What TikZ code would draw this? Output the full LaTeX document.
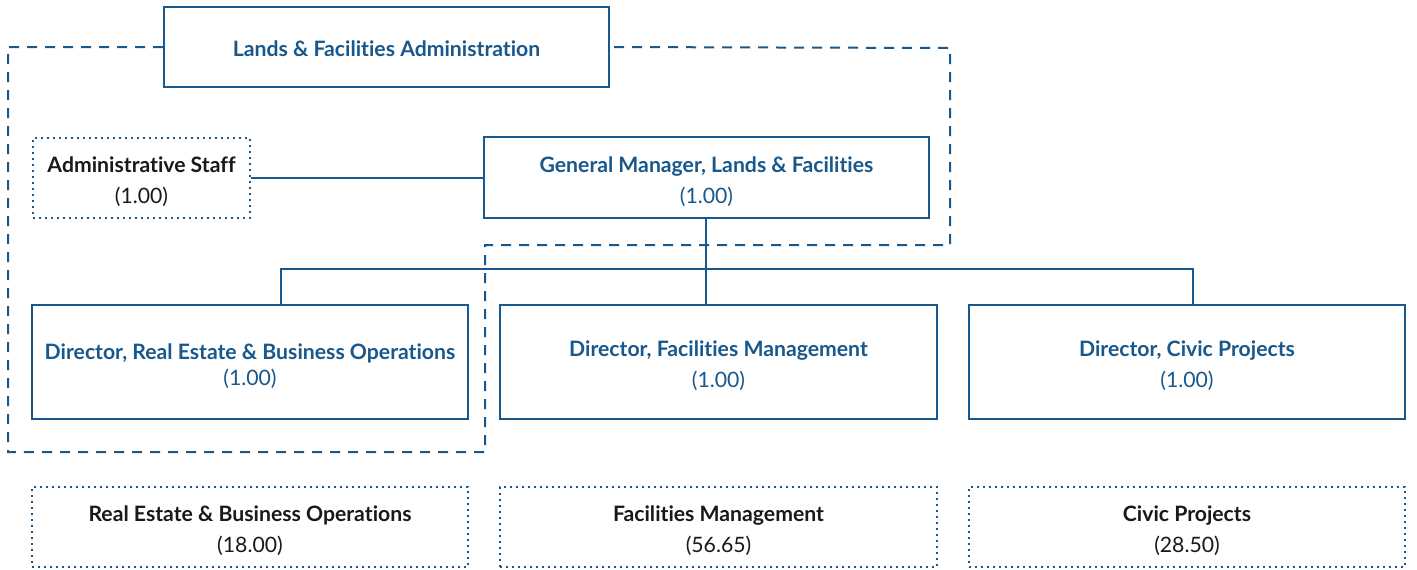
\documentclass[tikz,border=0pt]{standalone}
\usepackage{fontspec}
\setmainfont{Lato}[Ligatures=NoCommon]
\usepackage{tikz}
\usetikzlibrary{positioning,calc}
\definecolor{OrgBlue}{RGB}{24,88,140}
\definecolor{OrgInk}{RGB}{25,25,25}
\newcommand{\headrow}[1]{\rule{0pt}{12pt}\textbf{#1}}
\tikzset{
  unit/.style={draw=OrgBlue,line width=1pt,fill=white,align=center,
    inner sep=0pt,font=\fontsize{10.6}{15.5}\selectfont,text=OrgBlue},
  staff/.style={unit,dash pattern=on 1pt off 2pt,text=OrgInk},
  link/.style={draw=OrgBlue,line width=1pt},
  group/.style={draw=OrgBlue,line width=1pt,dash pattern=on 5pt off 4pt},
}

\begin{document}
\begin{tikzpicture}[x=0.5pt,y=-0.5pt]
  \useasboundingbox (0,0) rectangle (1417,569);
  % dashed group round the administration
  \node[unit,minimum width=222.5pt,minimum height=40pt] (lfa) at (386.5,47)
    {\rule{0pt}{10pt}\textbf{Lands \& Facilities Administration}};
  \draw[group] (lfa.west) -| (8,452) -| (485,245) -| (950,48) -- (lfa.east);
  \node[staff,minimum width=108.5pt,minimum height=40pt] (adm) at (141.5,178)
    {\headrow{Administrative Staff}\\(1.00)};
  \node[unit,minimum width=222.5pt,minimum height=40.5pt] (gm) at (706.5,177.5)
    {\headrow{General Manager, Lands \& Facilities}\\(1.00)};
  % directors
  \node[unit,minimum width=218pt,minimum height=57pt] (dre) at (250,362)
    {\headrow{Director, Real Estate \& Business Operations}\\[-2.5pt](1.00)};
  \node[unit,minimum width=218.5pt,minimum height=57pt] (dfm) at (718.5,362)
    {\headrow{Director, Facilities Management}\\(1.00)};
  \node[unit,minimum width=218pt,minimum height=57pt] (dcp) at (1187,362)
    {\headrow{Director, Civic Projects}\\(1.00)};
  % divisions
  \node[staff,minimum width=218pt,minimum height=40pt] (re) at (250,527)
    {\headrow{Real Estate \& Business Operations}\\(18.00)};
  \node[staff,minimum width=218.5pt,minimum height=40pt] (fm) at (718.5,527)
    {\headrow{Facilities Management}\\(56.65)};
  \node[staff,minimum width=218pt,minimum height=40pt] (cp) at (1187,527)
    {\headrow{Civic Projects}\\(28.50)};
  % reporting lines
  \coordinate (bus) at (706,269);
  \draw[link] (adm.east) -- (adm.east -| gm.west);
  \draw[link] (gm.south -| bus) -- (bus |- dfm.north);
  \draw[link] ([xshift=15.5pt]dre.north) |- (bus) -| ([xshift=3pt]dcp.north);
\end{tikzpicture}
\end{document}
